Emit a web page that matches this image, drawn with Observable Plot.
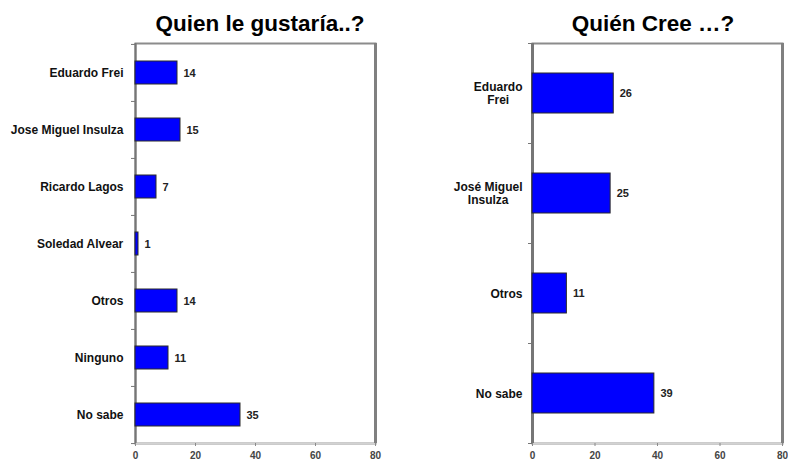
<!DOCTYPE html>
<html><head><meta charset="utf-8">
<script src="https://cdn.jsdelivr.net/npm/d3@7"></script>
<script src="https://cdn.jsdelivr.net/npm/@observablehq/plot@0.6"></script>
<style>
body{margin:0;background:#fff;font-family:"Liberation Sans",Arial,sans-serif;}
#wrap{position:relative;width:788px;height:462px;overflow:hidden;background:#fff;}
.title{position:absolute;top:13px;width:300px;font-weight:bold;font-size:22.5px;line-height:22px;color:#000;text-align:center;white-space:nowrap;}
.panel{position:absolute;top:0;}
</style></head><body>
<div id="wrap">
  <div class="title" id="t1" style="left:110px"></div>
  <div class="title" id="t2" style="left:503px"></div>
  <div class="panel" id="p1" style="left:0"></div>
  <div class="panel" id="p2" style="left:400px"></div>
</div>
<script>
const leftTitle = "Quien le gustaría..?";
const leftCategories = ["Eduardo Frei", "Jose Miguel Insulza", "Ricardo Lagos", "Soledad Alvear", "Otros", "Ninguno", "No sabe"];
const leftValues = [14, 15, 7, 1, 14, 11, 35];

const rightTitle = "Quién Cree …?";
const rightCategories = ["Eduardo\nFrei", "José Miguel\nInsulza", "Otros", "No sabe"];
const rightValues = [26, 25, 11, 39];

const xTicks = [0, 20, 40, 60, 80];
const xMax = 80;

const FONT = "Liberation Sans, Arial, sans-serif";
const ctx = document.createElement("canvas").getContext("2d");
ctx.font = "bold 12px 'Liberation Sans', Arial, sans-serif";
const maxLineWidth = (s) => Math.max(...s.split("\n").map(l => ctx.measureText(l).width));

function chart({cats, vals, width, ml, mr, labelGap, axisW}) {
  const data = cats.map((c, i) => ({cat: c, value: vals[i]}));
  const H = 462, mt = 43, mb = 19;
  const step = (H - mt - mb) / cats.length;
  const pw = width - ml - mr;
  const tickLen = -4 * xMax / pw;
  return Plot.plot({
    width, height: H,
    marginLeft: ml, marginRight: mr, marginTop: mt, marginBottom: mb,
    style: {fontFamily: FONT, overflow: "visible", background: "transparent"},
    x: {domain: [0, xMax], label: null},
    y: {domain: cats, paddingInner: 0.6, paddingOuter: 0.3, axis: null, label: null},
    marks: [
      Plot.frame({stroke: "#8c8c8c", strokeWidth: 2}),
      Plot.frame({anchor: "bottom", stroke: "#d2d2d2", strokeWidth: 2}),
      Plot.ruleX([xMax], {stroke: "#808080", strokeWidth: 3}),
      Plot.ruleX([0], {stroke: "#767676", strokeWidth: axisW}),
      Plot.ruleY(cats, {y: d => d, x1: 0, x2: tickLen, dy: -step / 2, stroke: "#767676", strokeWidth: 1}),
      Plot.ruleY(cats.slice(-1), {y: d => d, x1: 0, x2: tickLen, dy: step / 2, stroke: "#767676", strokeWidth: 1}),
      Plot.barX(data, {x: "value", y: "cat", fill: "#0000ff", stroke: "#2b2b2b", strokeWidth: 1}),
      Plot.text(data, {x: "value", y: "cat", text: d => String(d.value), dx: 6, textAnchor: "start",
        fontSize: 11, fontWeight: "bold", fill: "#222"}),
      ...cats.map(c => Plot.text([c], {y: d => d, text: d => d, frameAnchor: "left",
        textAnchor: "middle", dx: -(labelGap + maxLineWidth(c) / 2), lineAnchor: "middle", lineHeight: 1.1,
        fontSize: 12, fontWeight: "bold", fill: "#111"})),
      Plot.axisX({ticks: xTicks, tickSize: 3, tickPadding: 5, fontSize: 10, fontWeight: "bold",
        stroke: "#8a8a8a", fill: "#444", label: null})
    ]
  });
}

document.getElementById("t1").textContent = leftTitle;
document.getElementById("t2").textContent = rightTitle;
document.getElementById("p1").append(chart({cats: leftCategories, vals: leftValues, width: 400, ml: 135, mr: 25, labelGap: 12, axisW: 2}));
document.getElementById("p2").append(chart({cats: rightCategories, vals: rightValues, width: 388, ml: 132, mr: 6, labelGap: 10, axisW: 3}));
</script>
</body></html>
